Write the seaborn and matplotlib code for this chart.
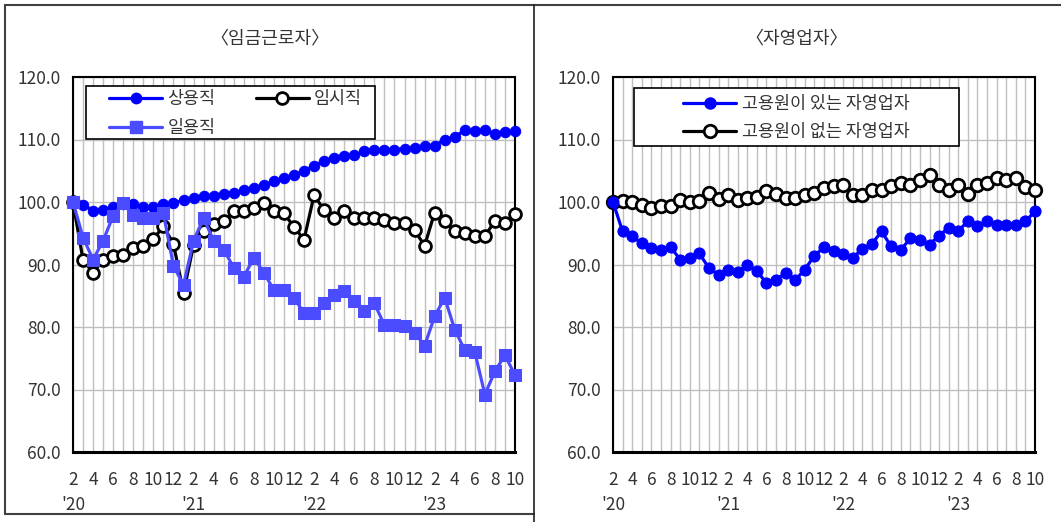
import matplotlib
matplotlib.use("Agg")
import matplotlib.pyplot as plt
import seaborn as sns
import numpy as np
import pandas as pd
from matplotlib.lines import Line2D
from matplotlib.patches import Rectangle

# ---- data (index, 2020.2 = 100) ----
months = [2,3,4,5,6,7,8,9,10,11,12] + list(range(1,13)) + list(range(1,13)) + list(range(1,11))
years = ["'20", "'21", "'22", "'23"]

regular = [100.0, 99.6, 98.6, 98.7, 99.2, 99.7, 99.7, 99.2, 99.2, 99.7, 99.8,
           100.3, 100.6, 101.0, 100.9, 101.3, 101.4, 101.9, 102.2, 102.7, 103.3, 103.8,
           104.3, 105.0, 105.8, 106.6, 107.1, 107.4, 107.5, 108.1, 108.3, 108.3,
           108.4, 108.5, 108.6, 108.9, 109.0, 110.0, 110.4, 111.5, 111.3, 111.5,
           110.9, 111.2, 111.4]
temporary = [100.0, 90.7, 88.7, 90.7, 91.4, 91.5, 92.7, 92.9, 94.1, 96.1, 93.3,
             85.5, 93.1, 95.3, 96.5, 96.9, 98.5, 98.6, 99.1, 99.8, 98.5, 98.2,
             96.0, 94.0, 101.1, 98.7, 97.5, 98.6, 97.4, 97.5, 97.4, 97.2,
             96.7, 96.6, 95.5, 93.0, 98.3, 97.0, 95.3, 95.1, 94.6, 94.5,
             97.0, 96.6, 98.1]
daily = [100.0, 94.3, 90.8, 93.8, 97.8, 99.8, 97.9, 97.5, 97.5, 98.2, 89.8,
         86.7, 93.8, 97.4, 93.8, 92.4, 89.5, 88.0, 91.1, 88.7, 85.9, 85.9,
         84.7, 82.2, 82.2, 83.8, 85.2, 85.8, 84.1, 82.6, 83.8, 80.3,
         80.3, 80.1, 79.1, 77.0, 81.7, 84.7, 79.6, 76.3, 76.0, 69.2,
         72.9, 75.5, 72.3]
with_emp = [100.0, 95.3, 94.5, 93.4, 92.6, 92.3, 92.8, 90.8, 91.0, 91.8, 89.4,
            88.4, 89.2, 88.8, 89.9, 89.0, 87.0, 87.5, 88.7, 87.5, 89.2, 91.4,
            92.8, 92.2, 91.7, 91.1, 92.5, 93.3, 95.3, 92.9, 92.3, 94.2,
            94.0, 93.2, 94.6, 95.9, 95.4, 96.9, 96.2, 96.9, 96.4, 96.4,
            96.4, 96.9, 98.5]
without_emp = [100.0, 100.1, 100.0, 99.6, 99.0, 99.3, 99.4, 100.3, 100.0, 100.1, 101.5,
               100.5, 101.1, 100.4, 100.6, 100.8, 101.8, 101.3, 100.7, 100.7, 101.2, 101.5,
               102.3, 102.6, 102.8, 101.1, 101.2, 102.0, 102.0, 102.6, 103.0, 102.8,
               103.5, 104.4, 102.8, 101.9, 102.7, 101.3, 102.7, 103.1, 103.9, 103.6,
               103.9, 102.4, 101.9]

left_title = "〈임금근로자〉"
right_title = "〈자영업자〉"
left_names = ["상용직", "임시직", "일용직"]
right_names = ["고용원이 있는 자영업자", "고용원이 없는 자영업자"]
yticks = [60, 70, 80, 90, 100, 110, 120]

# ---- style ----
sns.set_style("white")
plt.rcParams["font.family"] = ["Noto Sans CJK KR", "DejaVu Sans"]
FS = 12.5
TXT = "#333333"

n = len(months)
x = np.arange(n)
df = pd.DataFrame({"x": x, "regular": regular, "temporary": temporary, "daily": daily,
                   "with": with_emp, "without": without_emp})

W, H = 1061, 522
fig = plt.figure(figsize=(W / 100, H / 100), dpi=100)

AX_L = (73, 515)
AX_R = (613, 1035)
AX_T, AX_B = 77, 452
axL = fig.add_axes([AX_L[0] / W, 1 - AX_B / H, (AX_L[1] - AX_L[0]) / W, (AX_B - AX_T) / H])
axR = fig.add_axes([AX_R[0] / W, 1 - AX_B / H, (AX_R[1] - AX_R[0]) / W, (AX_B - AX_T) / H])

BLUE = "#0000FF"
SQ = "#4B4BFF"

styles = {
    "regular": dict(color=BLUE, marker="o", markersize=7.5, markerfacecolor=BLUE,
                    markeredgecolor=BLUE, linewidth=2.3),
    "temporary": dict(color="black", marker="o", markersize=8.5, markerfacecolor="white",
                      markeredgecolor="black", markeredgewidth=2.0, linewidth=2.3),
    "daily": dict(color=SQ, marker="s", markersize=8, markerfacecolor=SQ,
                  markeredgecolor=SQ, linewidth=2.3),
    "with": dict(color=BLUE, marker="o", markersize=8, markerfacecolor=BLUE,
                 markeredgecolor=BLUE, linewidth=2.3),
    "without": dict(color="black", marker="o", markersize=9, markerfacecolor="white",
                    markeredgecolor="black", markeredgewidth=2.0, linewidth=2.3),
}

for key in ["temporary", "regular", "daily"]:
    sns.lineplot(data=df, x="x", y=key, ax=axL, clip_on=False, zorder=3, **styles[key])
for key in ["without", "with"]:
    sns.lineplot(data=df, x="x", y=key, ax=axR, clip_on=False, zorder=3, **styles[key])

for ax in (axL, axR):
    ax.set_xlim(0, n - 1)
    ax.set_ylim(60, 120)
    ax.set_yticks(yticks)
    ax.set_yticklabels([f"{v:.1f}" for v in yticks], fontsize=FS, color=TXT)
    ax.set_xticks(x)
    ax.set_xticklabels([str(months[i]) if months[i] % 2 == 0 else "" for i in range(n)],
                       fontsize=FS, color=TXT)
    ax.tick_params(axis="both", length=0, pad=9)
    ax.tick_params(axis="x", pad=14)
    ax.grid(True, color="#BFBFBF", linewidth=1.0)
    ax.set_axisbelow(True)
    ax.set_xlabel("")
    ax.set_ylabel("")
    for s in ax.spines.values():
        s.set_visible(True)
        s.set_color("black")
        s.set_linewidth(1.5)
        s.set_zorder(2.5)
    ax.spines["bottom"].set_linewidth(2.2)
    feb = [i for i in range(n) if months[i] == 2]
    for k, i in enumerate(feb):
        ax.text(i, -0.14, years[k], transform=ax.get_xaxis_transform(), ha="center",
                va="center", fontsize=FS, color=TXT)


def px_to_axes(ax_lr, px, py):
    return ((px - ax_lr[0]) / (ax_lr[1] - ax_lr[0]), (AX_B - py) / (AX_B - AX_T))


def add_box(ax, ax_lr, x0, x1, y0, y1):
    a0 = px_to_axes(ax_lr, x0, y1)
    a1 = px_to_axes(ax_lr, x1, y0)
    r = Rectangle(a0, a1[0] - a0[0], a1[1] - a0[1], transform=ax.transAxes,
                  facecolor="white", edgecolor="black", linewidth=1.2, zorder=4)
    ax.add_patch(r)


hL = {k: Line2D([], [], **styles[k]) for k in styles}

# left legend
add_box(axL, AX_L, 86, 375, 86, 139)
legL = axL.legend([hL["regular"], hL["daily"], hL["temporary"]],
                  [left_names[0], left_names[2], left_names[1]],
                  ncol=2, loc="upper left", bbox_to_anchor=px_to_axes(AX_L, 106, 87),
                  borderaxespad=0, frameon=False, fontsize=FS,
                  handlelength=3.05, columnspacing=2.3, labelspacing=0.62,
                  borderpad=0.2, handletextpad=0.3)
legL.set_zorder(5)
for t in legL.get_texts():
    t.set_color(TXT)

# right legend
add_box(axR, AX_R, 634, 959, 88, 146)
legR = axR.legend([hL["with"], hL["without"]], right_names,
                  loc="upper left", bbox_to_anchor=px_to_axes(AX_R, 680, 92),
                  borderaxespad=0, frameon=False, fontsize=FS,
                  handlelength=3.0, labelspacing=0.55, borderpad=0.2,
                  handletextpad=0.4)
legR.set_zorder(5)
for t in legR.get_texts():
    t.set_color(TXT)

# titles
fig.text(270 / W, 1 - 38 / H, left_title, ha="center", va="center", fontsize=FS + 0.5, color=TXT)
fig.text(797 / W, 1 - 38 / H, right_title, ha="center", va="center", fontsize=FS + 0.5, color=TXT)

# panel frame lines
frame_kw = dict(transform=fig.transFigure, color="#404040", linewidth=1.5)
fig.add_artist(Line2D([5 / W, 1], [1 - 5 / H, 1 - 5 / H], **frame_kw))
fig.add_artist(Line2D([5 / W, 5 / W], [1 - 5 / H, 1 - 514 / H], **frame_kw))
fig.add_artist(Line2D([5 / W, 534 / W], [1 - 514 / H, 1 - 514 / H], **frame_kw))
fig.add_artist(Line2D([534 / W, 534 / W], [1 - 5 / H, 0], **dict(frame_kw, color="#202020", linewidth=1.2)))

fig.savefig("out.png", dpi=100)
